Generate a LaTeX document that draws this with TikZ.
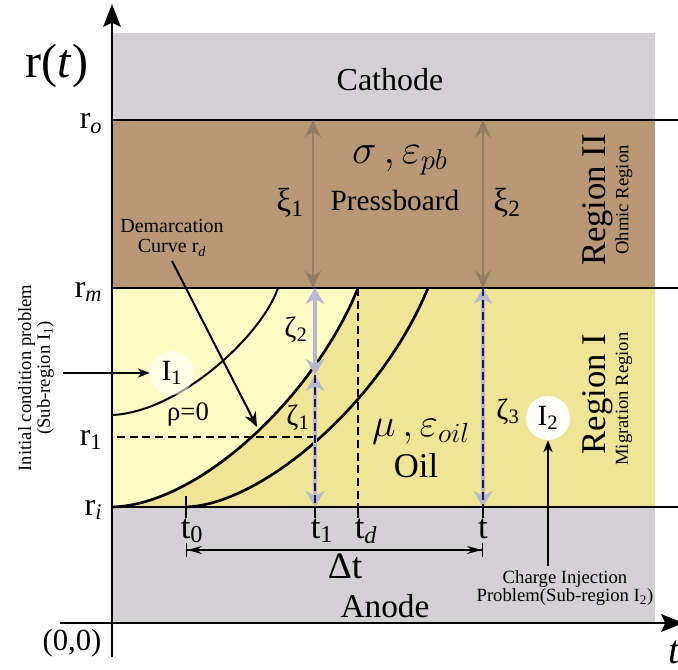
\documentclass[tikz,border=0pt]{standalone}
\usepackage{fontspec}
\setmainfont{Liberation Serif}
\usepackage{amsmath}
\usetikzlibrary{shapes,arrows,arrows.meta,positioning,calc}
\definecolor{gray1}{RGB}{211,209,212}
\definecolor{brown1}{RGB}{184,152,118}
\definecolor{brown2}{RGB}{145,124,102}
\definecolor{yellow1}{RGB}{240,228,150}
\definecolor{yellow2}{RGB}{255,251,198}
\definecolor{lav1}{RGB}{184,184,206}
\definecolor{navy1}{RGB}{25,25,95}
\newcommand{\fsz}[1]{\fontsize{#1}{#1}\selectfont}

\begin{document}
\begin{tikzpicture}[x=0.75pt, y=-0.75pt, line join=round]
    \useasboundingbox (0,0) rectangle (678,670);
    \fill[gray1] (112,33) rectangle (655,120);
    \fill[brown1] (112,120) rectangle (655,288);
    \fill[yellow1] (112,288) rectangle (655,507);
    \fill[yellow2] (112,507) .. controls (200,505) and (315,395) .. (358,288) -- (112,288) -- cycle;
    \fill[gray1] (112,507) rectangle (655,623);

    \coordinate (tzero) at (186,507);
    \coordinate (tone) at (315,507);
    \coordinate (tdm) at (358,507);
    \coordinate (tend) at (483,507);
    \coordinate (rone) at (315,437);
    \coordinate (rdtop) at (358,288);
    \coordinate (zmid) at (315,375);
    \coordinate (zone) at (315,288);
    \coordinate (zthree) at (483,288);
    \coordinate (xione) at (313,120);
    \coordinate (xitwo) at (483,120);

    % curves
    \draw[line width=1.5pt] (112,415) .. controls (180,412) and (262,335) .. (278,288);
    \draw[line width=2pt] (112,507) .. controls (200,505) and (315,395) .. (rdtop);
    \draw[line width=2pt] (tzero) .. controls (260,505) and (380,405) .. (428,288);
    \draw[line width=1pt, dash pattern=on 6pt off 3.5pt] (117,437) -- (rone);
    \draw[line width=1pt, dash pattern=on 6pt off 3.5pt] (rdtop) -- (tdm);

    % layer lines and axes
    \foreach \yy in {120,288,507}
        \draw[line width=2pt] (112,\yy) -- (678,\yy);
    \draw[line width=2.2pt, -{Stealth[length=17pt,width=13pt,inset=3pt]}] (112,657) -- (112,4);
    \draw[line width=2.2pt, -{Stealth[length=17pt,width=13pt,inset=3pt]}] (60,623) -- (684,623);
    \foreach \xx in {315,358,483}
        \draw[line width=1pt] (\xx,507) -- (\xx,518);
    \draw[line width=1pt] (186,496) -- (186,518);

    % thickness arrows
    \draw[brown2, line width=2.2pt, {Stealth[length=13pt,width=12pt]}-{Stealth[length=13pt,width=12pt]}] (xione) -- (313,288);
    \draw[brown2, line width=2.2pt, {Stealth[length=13pt,width=12pt]}-{Stealth[length=13pt,width=12pt]}] (xitwo) -- (483,288);
    \draw[lav1, line width=3pt, {Stealth[length=12pt,width=14pt]}-{Stealth[length=12pt,width=14pt]}] (zone) -- (zmid);
    \draw[lav1, line width=3pt, {Stealth[length=12pt,width=14pt]}-{Stealth[length=12pt,width=14pt]}] (zmid) -- (tone);
    \draw[lav1, line width=3pt, {Stealth[length=12pt,width=14pt]}-{Stealth[length=12pt,width=14pt]}] (zthree) -- (tend);
    \draw[navy1, line width=1pt, dash pattern=on 6pt off 3pt] (zmid) -- (tone);
    \draw[navy1, line width=1pt, dash pattern=on 6pt off 3pt] (zthree) -- (tend);

    % labels
    \node[font=\fsz{36}] (rt) at (57,66) {r(\textit{t})};
    \node[font=\fsz{23}] (orig) at (72,643) {(0,0)};
    \node[font=\fsz{30}] (taxis) at (674,652) {\textit{t}};
    \node[font=\fsz{24}, anchor=base east] (ro) at (107,129) {r\textsubscript{\textit{o}}};
    \node[font=\fsz{24}, anchor=base east] (rm) at (107,297) {r\textsubscript{\textit{m}}};
    \node[font=\fsz{24}, anchor=base east] (rl) at (107,445) {r\textsubscript{1}};
    \node[font=\fsz{24}, anchor=base east] (ri) at (107,515) {r\textsubscript{\textit{i}}};
    \node[font=\fsz{26}, anchor=base] (lt0) at (192,538) {t\textsubscript{0}};
    \node[font=\fsz{26}, anchor=base] (lt1) at (322,538) {t\textsubscript{1}};
    \node[font=\fsz{26}, anchor=base] (ltd) at (366,538) {t\textsubscript{\textit{d}}};
    \node[font=\fsz{26}, anchor=base] (lt) at (483,538) {t};
    \node[font=\fsz{24}] (cathode) at (390,80) {Cathode};
    \node[font=\fsz{25}] (anode) at (385,606) {Anode};
    \node (pbsym) at (400,160) {\scalebox{1.25}{\fsz{24}$\sigma\,\mathbf{,}\,\varepsilon_{pb}$}};
    \node[font=\fsz{22}, anchor=base] (pb) at (395,211) {Pressboard};
    \node (oilsym) at (421,432) {\scalebox{1.2}{\fsz{24}$\mu\,\mathbf{,}\,\varepsilon_{oil}$}};
    \node[font=\fsz{26}] (oil) at (416,466) {Oil};
    \node[font=\fsz{26}, rotate=90] (reg2) at (598,200) {Region II};
    \node[font=\fsz{14}, rotate=90] (ohm) at (624,200) {Ohmic Region};
    \node[font=\fsz{26}, rotate=90] (reg1) at (598,394) {Region I};
    \node[font=\fsz{14}, rotate=90] (mig) at (624,399) {Migration Region};
    \node[font=\fsz{25}] (xi1) at (290,203) {ξ\textsubscript{1}};
    \node[font=\fsz{25}] (xi2) at (507,203) {ξ\textsubscript{2}};
    \node[font=\fsz{22}] (ze2) at (296,330) {ζ\textsubscript{2}};
    \node[font=\fsz{22}] (ze1) at (298,418) {ζ\textsubscript{1}};
    \node[font=\fsz{22}] (ze3) at (508,412) {ζ\textsubscript{3}};
    \node[font=\fsz{20}] (rho) at (188,414) {ρ=0};
    \node[font=\fsz{15}, align=center] (dem) at (172,238) {Demarcation\\Curve r\textsubscript{\textit{d}}};
    \node[font=\fsz{14}, align=center, rotate=90] (icp) at (36,378) {Initial condition problem\\(Sub-region I\textsubscript{1})};
    \node[font=\fsz{14}, align=center] (cip) at (565,588) {Charge Injection\\Problem(Sub-region I\textsubscript{2})};
    \node[circle, fill=white, fill opacity=0.6, text opacity=1, minimum size=44*0.75pt, inner sep=0pt, font=\fsz{22}] (ione) at (172,373) {I\textsubscript{1}};
    \node[circle, fill=white, fill opacity=0.95, text opacity=1, minimum size=44*0.75pt, inner sep=0pt, font=\fsz{22}] (itwo) at (548,418) {I\textsubscript{2}};

    % pointers
    \coordinate (icparr) at (63,373);
    \coordinate (ciparr) at (548,566);
    \coordinate (demtip) at (257,427);
    \draw[line width=1pt, -{Stealth[length=9pt,width=7pt]}] (icparr) -- (ione);
    \draw[line width=1pt, -{Stealth[length=9pt,width=7pt]}] (ciparr) -- (itwo);
    \draw[line width=1.5pt, -{Stealth[length=11pt,width=9pt]}] (dem.south) -- (demtip);
    \draw[line width=1pt, {Bar[width=10pt]Stealth[length=11pt,width=6pt]}-{Stealth[length=11pt,width=6pt]Bar[width=10pt]}] (186,550) -- (483,550);
    \node[font=\fsz{28}, anchor=base] (dt) at (345,578) {Δt};
\end{tikzpicture}
\end{document}
